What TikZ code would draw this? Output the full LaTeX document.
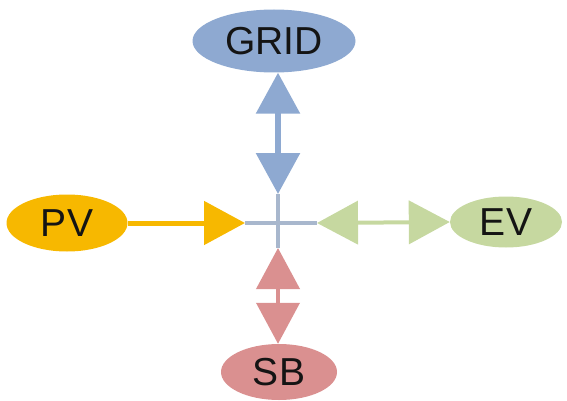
\documentclass[tikz,border=0pt]{standalone}
\usepackage{fontspec}
\setmainfont{Liberation Sans}
\usetikzlibrary{shapes.geometric,arrows.meta}
\definecolor{gridc}{HTML}{8EA9D1}
\definecolor{pvc}{HTML}{F7B800}
\definecolor{evc}{HTML}{C6D8A0}
\definecolor{sbc}{HTML}{DA9090}
\definecolor{hubc}{HTML}{A8B7CD}
\definecolor{txt}{HTML}{141414}
\tikzset{
  blob/.style={ellipse, inner sep=0pt, text=txt, font=\fontsize{39}{39}\selectfont},
  bigtip/.style={-{Triangle[length=41pt,width=43pt]}},
  bothtip/.style={{Triangle[length=41pt,width=43pt]}-{Triangle[length=41pt,width=43pt]}},
  hubline/.style={draw=hubc, line width=3.5pt}
}
\begin{document}
\begin{tikzpicture}[x=1pt,y=-1pt]
\useasboundingbox (0,0) rectangle (567,401);
\node[blob, fill=gridc, minimum width=163pt, minimum height=63pt] (grid) at (274,41) {GRID};
\node[blob, fill=pvc, minimum width=121pt, minimum height=57pt] (pv) at (67,223) {PV};
\node[blob, fill=evc, minimum width=112pt, minimum height=51pt] (ev) at (506,222) {EV};
\node[blob, fill=sbc, minimum width=116pt, minimum height=56pt] (sb) at (279,372) {SB};
\coordinate (hub) at (278,223);
\coordinate (pt) at (245,223);
\coordinate (et) at (317,223);
\coordinate (gt) at (278,194);
\coordinate (st) at (278,248);
% hub cross
\draw[hubline] (pt) -- (et);
\draw[hubline] (gt) -- (st);
% arrows
\draw[gridc, line width=6pt, bothtip] (grid.south -| hub) -- (gt);
\draw[pvc, line width=5pt, bigtip] (pv.east) -- (pt);
\draw[evc, line width=4pt, bothtip] (et) -- (ev.west);
\draw[sbc, line width=4pt, bothtip] (st) -- (sb.north -| hub);
\end{tikzpicture}
\end{document}
